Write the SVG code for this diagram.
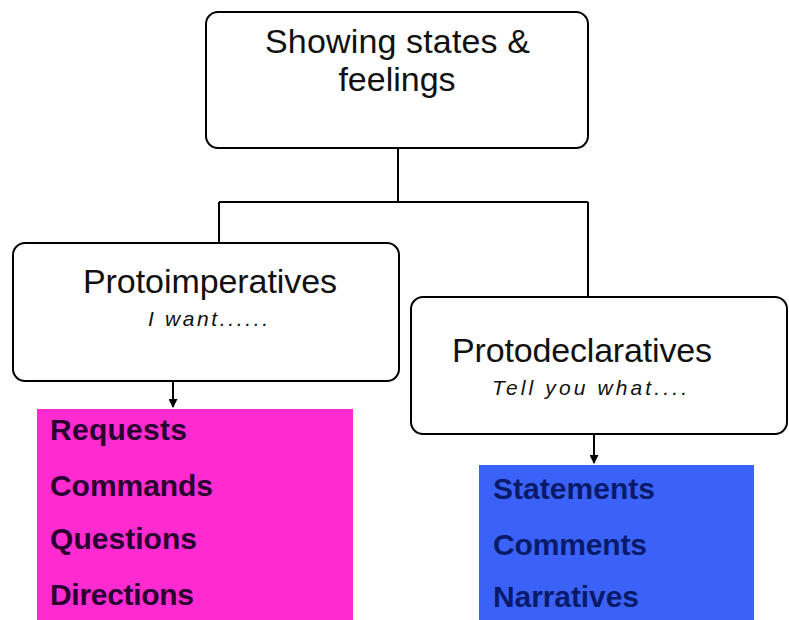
<svg xmlns="http://www.w3.org/2000/svg" width="789" height="620" viewBox="0 0 789 620">
<defs>
<style>
.box{fill:#fff;stroke:#000;stroke-width:2}
.t{font-family:"Liberation Sans",Arial,sans-serif;font-size:34px;fill:#111;text-anchor:middle}
.it{font-family:"Liberation Sans",Arial,sans-serif;font-size:21px;font-style:italic;fill:#111}
.b{font-family:"Liberation Sans",Arial,sans-serif;font-size:30px;font-weight:bold}
.pk{fill:#2a0030}
.bl{fill:#0a1a6a}
.ln{stroke:#000;stroke-width:2;fill:none}
</style>
<marker id="ah" markerWidth="9" markerHeight="9" refX="8" refY="4.5" orient="auto" markerUnits="userSpaceOnUse">
<path d="M0,0 L9,4.5 L0,9 Z" fill="#000"/>
</marker>
</defs>
<rect width="789" height="620" fill="#fff"/>
<g id="connectors">
<path class="ln" d="M398,148 V202 M219,202 H588 M219,202 V243 M588,202 V297"/>
<path class="ln" d="M173,381 V407" marker-end="url(#ah)"/>
<path class="ln" d="M594,434 V463" marker-end="url(#ah)"/>
</g>
<g id="top">
<rect class="box" x="206" y="12" width="382" height="136" rx="12"/>
<text class="t" x="397.5" y="53" textLength="265" lengthAdjust="spacing">Showing states &amp;</text>
<text class="t" x="397" y="91">feelings</text>
</g>
<g id="protoimperatives">
<rect class="box" x="13" y="243" width="386" height="138" rx="12"/>
<text class="t" x="210" y="293" textLength="254" lengthAdjust="spacing">Protoimperatives</text>
<text class="it" x="148" y="326" textLength="120" lengthAdjust="spacing">I want......</text>
</g>
<g id="protodeclaratives">
<rect class="box" x="411" y="297" width="376" height="137" rx="12"/>
<text class="t" x="582" y="362" textLength="260" lengthAdjust="spacing">Protodeclaratives</text>
<text class="it" x="492" y="395" textLength="195" lengthAdjust="spacing">Tell you what....</text>
</g>
<g id="imperative-list">
<rect x="37" y="409" width="316" height="211" fill="#ff2bd0"/>
<text class="b pk" x="50" y="440" textLength="137" lengthAdjust="spacing">Requests</text>
<text class="b pk" x="50" y="496" textLength="163" lengthAdjust="spacing">Commands</text>
<text class="b pk" x="50" y="549" textLength="147" lengthAdjust="spacing">Questions</text>
<text class="b pk" x="50" y="605" textLength="144" lengthAdjust="spacing">Directions</text>
</g>
<g id="declarative-list">
<rect x="479" y="465" width="275" height="155" fill="#3a62f8"/>
<text class="b bl" x="493" y="499" textLength="162" lengthAdjust="spacing">Statements</text>
<text class="b bl" x="493" y="555" textLength="154" lengthAdjust="spacing">Comments</text>
<text class="b bl" x="493" y="607" textLength="146" lengthAdjust="spacing">Narratives</text>
</g>
</svg>
